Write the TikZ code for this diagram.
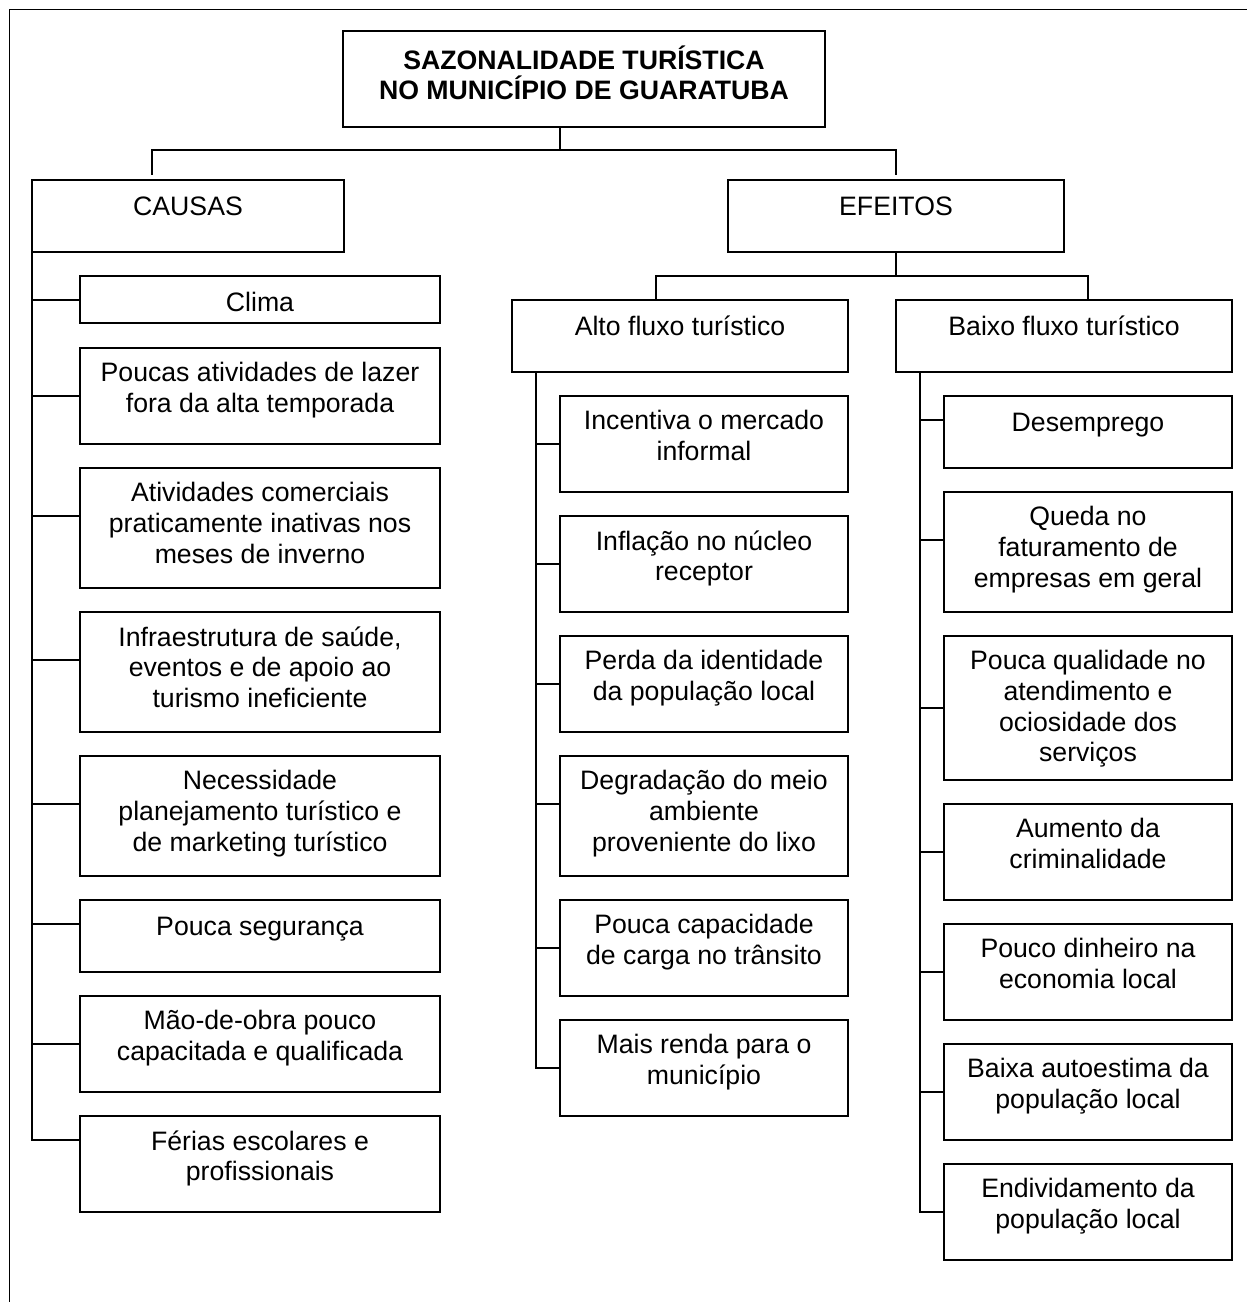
\documentclass[tikz,border=0pt]{standalone}
\usepackage{fontspec}
\setmainfont{Liberation Sans}
\usetikzlibrary{positioning}

\tikzset{every picture/.style={line width=1.5pt}}
\tikzset{
  caixa/.style={draw, rectangle, anchor=north west, inner sep=0pt, outer sep=0pt},
  causa/.style={caixa, minimum width=270pt, minimum height=#1*0.75pt},
  efeito/.style={caixa, minimum width=216pt, minimum height=#1*0.75pt},
  texto/.style={anchor=north, align=center, inner sep=0pt, font=\fontsize{20}{23}\selectfont, execute at begin node=\strut},
}

\begin{document}
\begin{tikzpicture}[x=0.75pt,y=0.75pt,yscale=-1,xscale=1]
    \useasboundingbox (0,0) rectangle (1247,1302);

    %Frame
    \draw [line width=0.75pt] (9,1302) -- (9,10) -- (1247,10) ;

    %Title
    \node [caixa, minimum width=361.5pt, minimum height=72pt] (titulo) at (343,31) {};
    \node [texto, font=\fontsize{20}{23}\selectfont\bfseries] (titulot) at (584,44.5) {SAZONALIDADE TURÍSTICA\\NO MUNICÍPIO DE GUARATUBA};

    %Causas / Efeitos
    \node [caixa, minimum width=234pt, minimum height=54pt] (causas) at (32,180) {};
    \node [texto] (causast) at (188,193.5) {CAUSAS};
    \node [caixa, minimum width=252pt, minimum height=54pt] (efeitos) at (728,180) {};
    \node [texto] (efeitost) at (896,193.5) {EFEITOS};

    %Alto / Baixo fluxo
    \node [caixa, minimum width=252pt, minimum height=54pt] (alto) at (512,300) {};
    \node [texto] (altot) at (680,313.5) {Alto fluxo turístico};
    \node [caixa, minimum width=252pt, minimum height=54pt] (baixo) at (896,300) {};
    \node [texto] (baixot) at (1064,313.5) {Baixo fluxo turístico};

    %Left column
    \node [causa=47] (c1) at (80,276) {};
    \node [texto] (c1t) at (260,289.5) {Clima};
    \node [causa=96] (c2) at (80,348) {};
    \node [texto] (c2t) at (260,361.5) {Poucas atividades de lazer\\fora da alta temporada};
    \node [causa=120] (c3) at (80,468) {};
    \node [texto] (c3t) at (260,481.5) {Atividades comerciais\\praticamente inativas nos\\meses de inverno};
    \node [causa=120] (c4) at (80,612) {};
    \node [texto] (c4t) at (260,625.5) {Infraestrutura de saúde,\\eventos e de apoio ao\\turismo ineficiente};
    \node [causa=120] (c5) at (80,756) {};
    \node [texto] (c5t) at (260,769.5) {Necessidade\\planejamento turístico e\\de marketing turístico};
    \node [causa=72] (c6) at (80,900) {};
    \node [texto] (c6t) at (260,913.5) {Pouca segurança};
    \node [causa=96] (c7) at (80,996) {};
    \node [texto] (c7t) at (260,1009.5) {Mão-de-obra pouco\\capacitada e qualificada};
    \node [causa=96] (c8) at (80,1116) {};
    \node [texto] (c8t) at (260,1129.5) {Férias escolares e\\profissionais};

    %Middle column
    \node [efeito=96] (a1) at (560,396) {};
    \node [texto] (a1t) at (704,409.5) {Incentiva o mercado\\informal};
    \node [efeito=96] (a2) at (560,516) {};
    \node [texto] (a2t) at (704,529.5) {Inflação no núcleo\\receptor};
    \node [efeito=96] (a3) at (560,636) {};
    \node [texto] (a3t) at (704,649.5) {Perda da identidade\\da população local};
    \node [efeito=120] (a4) at (560,756) {};
    \node [texto] (a4t) at (704,769.5) {Degradação do meio\\ambiente\\proveniente do lixo};
    \node [efeito=96] (a5) at (560,900) {};
    \node [texto] (a5t) at (704,913.5) {Pouca capacidade\\de carga no trânsito};
    \node [efeito=96] (a6) at (560,1020) {};
    \node [texto] (a6t) at (704,1033.5) {Mais renda para o\\município};

    %Right column
    \node [efeito=72] (b1) at (944,396) {};
    \node [texto] (b1t) at (1088,409.5) {Desemprego};
    \node [efeito=120] (b2) at (944,492) {};
    \node [texto] (b2t) at (1088,505.5) {Queda no\\faturamento de\\empresas em geral};
    \node [efeito=144] (b3) at (944,636) {};
    \node [texto] (b3t) at (1088,649.5) {Pouca qualidade no\\atendimento e\\ociosidade dos\\serviços};
    \node [efeito=96] (b4) at (944,804) {};
    \node [texto] (b4t) at (1088,817.5) {Aumento da\\criminalidade};
    \node [efeito=96] (b5) at (944,924) {};
    \node [texto] (b5t) at (1088,937.5) {Pouco dinheiro na\\economia local};
    \node [efeito=96] (b6) at (944,1044) {};
    \node [texto] (b6t) at (1088,1057.5) {Baixa autoestima da\\população local};
    \node [efeito=96] (b7) at (944,1164) {};
    \node [texto] (b7t) at (1088,1177.5) {Endividamento da\\população local};

    %Junctions
    \coordinate (jt) at (560,150);
    \coordinate (jc) at (152,150);
    \coordinate (je) at (896,150);
    \coordinate (ja) at (656,276);
    \coordinate (jb) at (1088,276);
    \coordinate (ta) at (536,372);
    \coordinate (tb) at (920,372);
    \coordinate (c3e) at (80,516);
    \coordinate (c4e) at (80,660);
    \coordinate (c5e) at (80,804);
    \coordinate (c6e) at (80,924);
    \coordinate (c8e) at (80,1140);
    \coordinate (a4e) at (560,804);
    \coordinate (b1e) at (944,420);
    \coordinate (b2e) at (944,540);

    %Title connectors
    \draw (jt |- titulo.south) -- (jt) ;
    \draw [shorten <=3.75pt, shorten >=3.75pt] (jc |- causas.north) |- (je) -- (efeitos.north) ;
    \draw (efeitos.south) -- (efeitos.south |- ja) ;
    \draw (ja |- alto.north) |- (jb) -- (jb |- baixo.north) ;

    %Causas branches
    \draw (causas.south west) |- (c8e) ;
    \draw (c1.west) -- (c1.west -| causas.south west) ;
    \draw (c2.west) -- (c2.west -| causas.south west) ;
    \draw (c3e) -- (c3e -| causas.south west) ;
    \draw (c4e) -- (c4e -| causas.south west) ;
    \draw (c5e) -- (c5e -| causas.south west) ;
    \draw (c6e) -- (c6e -| causas.south west) ;
    \draw (c7.west) -- (c7.west -| causas.south west) ;

    %Alto fluxo branches
    \draw (ta) |- (a6.west) ;
    \draw (a1.west) -- (a1.west -| ta) ;
    \draw (a2.west) -- (a2.west -| ta) ;
    \draw (a3.west) -- (a3.west -| ta) ;
    \draw (a4e) -- (a4e -| ta) ;
    \draw (a5.west) -- (a5.west -| ta) ;

    %Baixo fluxo branches
    \draw (tb) |- (b7.west) ;
    \draw (b1e) -- (b1e -| tb) ;
    \draw (b2e) -- (b2e -| tb) ;
    \draw (b3.west) -- (b3.west -| tb) ;
    \draw (b4.west) -- (b4.west -| tb) ;
    \draw (b5.west) -- (b5.west -| tb) ;
    \draw (b6.west) -- (b6.west -| tb) ;
\end{tikzpicture}
\end{document}
